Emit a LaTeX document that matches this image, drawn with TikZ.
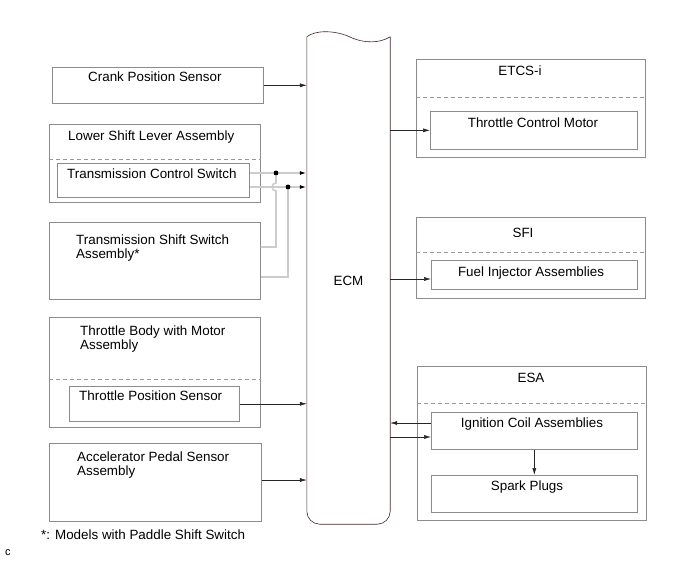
\documentclass[tikz,border=0pt]{standalone}
\usepackage{fontspec}
\setmainfont{Liberation Sans}
\usetikzlibrary{arrows.meta,positioning,calc}
\definecolor{ecmline}{RGB}{70,40,40}

\begin{document}
\begin{tikzpicture}[x=1pt,y=-1pt,
  box/.style={draw=gray!90, line width=0.6pt, anchor=north west, inner sep=0pt},
  lbl/.style={anchor=west, inner sep=0pt, align=left, font=\fontsize{13.4}{14.5}\selectfont},
  ctr/.style={inner sep=0pt, font=\fontsize{13.4}{14.5}\selectfont},
  sep/.style={gray!80, dash pattern=on 4pt off 3pt, line width=0.6pt},
  sig/.style={-{Latex[length=7pt,width=4pt]}, line width=0.5pt, black!85},
  bus/.style={gray!40, line width=1.6pt},
  dot/.style={circle, fill=black, inner sep=0pt, minimum size=5pt}]
\useasboundingbox (0,0) rectangle (690,562);

% ECM
\node (ecm) [ctr, minimum width=83pt, minimum height=487pt] at (348.5,280.5) {ECM};
\draw[ecmline, line width=0.6pt, rounded corners=13pt]
  (ecm.north west) -- (ecm.south west) -- (ecm.south east) -- (ecm.north east);
\draw[ecmline, line width=0.6pt] (ecm.north west)
  .. controls (315,30) and (335,30) .. (350,37)
  .. controls (365,44) and (380,43) .. (ecm.north east);

% inputs
\node (crank) [box, minimum width=211pt, minimum height=36pt] at (52,67) {};
\node (crankL) [lbl] at (88,77) {Crank Position Sensor};

\node (lsl) [box, minimum width=211pt, minimum height=78pt] at (49,124) {};
\node (lslL) [lbl] at (68,137) {Lower Shift Lever Assembly};
\draw[sep] (lsl.west |- 0,159) -- (lsl.east |- 0,159);
\node (tcs) [box, minimum width=192pt, minimum height=34pt] at (57,163) {};
\node (tcsL) [lbl] at (67,174) {Transmission Control Switch};

\node (tss) [box, minimum width=211pt, minimum height=77pt] at (49,222) {};
\node (tssL) [lbl] at (76,248) {Transmission Shift Switch\\Assembly*};

\node (tb) [box, minimum width=211pt, minimum height=110pt] at (49,317) {};
\node (tbL) [lbl] at (80,339) {Throttle Body with Motor\\Assembly};
\draw[sep] (tb.west |- 0,379) -- (tb.east |- 0,379);
\node (tps) [box, minimum width=170pt, minimum height=35pt] at (69,386) {};
\node (tpsL) [lbl] at (79,396) {Throttle Position Sensor};

\node (aps) [box, minimum width=212pt, minimum height=78pt] at (49,443) {};
\node (apsL) [lbl] at (77,465) {Accelerator Pedal Sensor\\Assembly};

% outputs
\node (etcs) [box, minimum width=229pt, minimum height=98pt] at (416,59) {};
\node (etcsL) [ctr] at (520,71) {ETCS-i};
\draw[sep] (etcs.west |- 0,97) -- (etcs.east |- 0,97);
\node (tcm) [box, minimum width=207pt, minimum height=38pt] at (430,111) {};
\node (tcmL) [ctr] at (533,123) {Throttle Control Motor};

\node (sfi) [box, minimum width=229pt, minimum height=81pt] at (416,217) {};
\node (sfiL) [ctr] at (523,233) {SFI};
\draw[sep] (sfi.west |- 0,252) -- (sfi.east |- 0,252);
\node (fia) [box, minimum width=206pt, minimum height=29pt] at (431,260) {};
\node (fiaL) [ctr] at (531,273) {Fuel Injector Assemblies};

\node (esa) [box, minimum width=229pt, minimum height=154pt] at (417,366) {};
\node (esaL) [ctr] at (531,378) {ESA};
\draw[sep] (esa.west |- 0,403) -- (esa.east |- 0,403);
\node (ica) [box, minimum width=206pt, minimum height=37pt] at (431,412) {};
\node (icaL) [ctr] at (532,424) {Ignition Coil Assemblies};
\node (spark) [box, minimum width=206pt, minimum height=37pt] at (431,475) {};
\node (sparkL) [ctr] at (527,487) {Spark Plugs};

% switch lines
\node (j1) [dot] at (276,173) {};
\node (j2) [dot] at (288,187) {};
\draw[bus] (tcs.east |- 0,173) -- (j1);
\draw[bus] (tcs.east |- 0,187) -- (j2);
\draw[bus] (tss.east |- 0,247) -- (276,247) -- (276,191)
  arc[start angle=90, end angle=270, radius=4] -- (j1);
\draw[bus] (tss.east |- 0,277) -- (288,277) -- (j2);
\draw[bus, -{Latex[length=7pt,width=4pt,color=black]}] (j1) -- (ecm.west |- j1);
\draw[bus, -{Latex[length=7pt,width=4pt,color=black]}] (j2) -- (ecm.west |- j2);

% signals
\draw[sig] (crank.east) -- (ecm.west |- crank.east);
\draw[sig] (tps.east) -- (ecm.west |- tps.east);
\draw[sig] (aps.east |- 0,480) -- (ecm.west |- 0,480);
\draw[sig] (ecm.east |- tcm.west) -- (tcm.west);
\draw[sig] (ecm.east |- 0,279) -- (fia.west |- 0,279);
\draw[sig] (ica.west |- 0,423) -- (ecm.east |- 0,423);
\draw[sig] (ecm.east |- 0,437) -- (ica.west |- 0,437);
\draw[sig] (ica.south) -- (spark.north);

% notes
\node (note) [lbl] at (41,535) {*: Models with Paddle Shift Switch};
\node (code) [lbl, font=\fontsize{11}{12}\selectfont] at (5,553) {c};
\end{tikzpicture}
\end{document}
